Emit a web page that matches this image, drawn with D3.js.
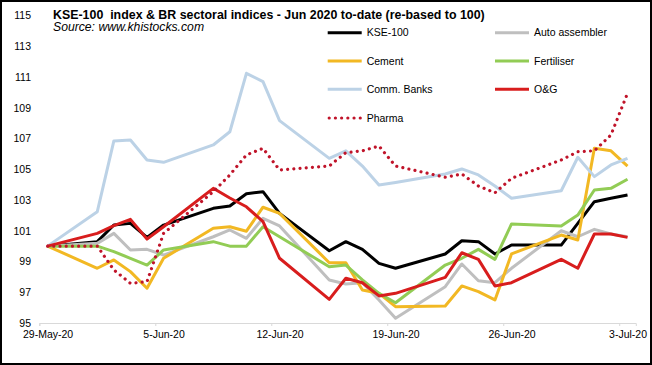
<!DOCTYPE html>
<html><head><meta charset="utf-8">
<script src="https://cdn.jsdelivr.net/npm/d3@7"></script>
<style>
html,body{margin:0;padding:0;background:#fff;}
svg{display:block;font-family:Arial,"Liberation Sans",sans-serif;}
</style></head>
<body>
<svg id="c" width="652" height="365"></svg>
<script>
const dates = ["2020-05-29","2020-06-01","2020-06-02","2020-06-03","2020-06-04","2020-06-05",
"2020-06-08","2020-06-09","2020-06-10","2020-06-11","2020-06-12",
"2020-06-15","2020-06-16","2020-06-17","2020-06-18","2020-06-19",
"2020-06-22","2020-06-23","2020-06-24","2020-06-25","2020-06-26",
"2020-06-29","2020-06-30","2020-07-01","2020-07-02","2020-07-03"];
const kse100 = [100,100.29,101.37,101.48,100.57,101.37,102.46,102.61,103.41,103.54,102.13,99.70,100.29,99.79,98.88,98.56,99.49,100.35,100.29,99.49,100.07,100.07,101.48,102.89,103.11,103.33];
const autoAssembler = [100,100.18,100.83,99.75,99.79,99.42,100.61,101.05,100.51,101.81,101.31,97.80,97.54,97.62,96.50,95.31,97.36,98.84,97.75,97.62,98.56,101.0,100.61,101.09,100.79,100.61];
const cement = [100,98.56,99.10,98.34,97.26,99.21,101.16,101.26,100.97,102.53,102.13,98.92,98.92,97.15,96.93,96.06,96.11,97.41,97.04,96.50,99.49,100.72,100.40,106.36,106.20,105.21];
const fertiliser = [100,100.0,99.64,99.21,98.77,99.75,100.29,100.0,100.0,101.26,100.61,98.66,98.77,97.80,96.93,96.32,98.77,99.21,99.79,99.14,101.44,101.31,102.02,103.65,103.76,104.35];
const commBanks = [100,102.24,106.84,106.9,105.6,105.45,106.58,107.44,111.24,110.7,108.16,105.71,106.2,105.21,103.98,104.14,104.69,105.02,104.63,103.91,103.11,103.6,105.78,104.52,105.28,105.71];
const oilGas = [100,100.83,101.33,101.74,100.46,101.26,103.76,103.13,102.56,101.59,99.21,96.54,97.91,97.62,96.76,96.93,97.97,99.57,99.14,97.41,97.62,99.14,98.56,100.79,100.79,100.57];
const pharma = [100,100.0,98.45,97.58,97.69,100.83,103.54,104.63,105.93,106.36,104.95,105.21,106.08,106.2,106.51,105.21,104.48,104.69,103.91,103.47,104.41,105.6,106.14,106.2,107.23,109.94];
const seriesNames = ["KSE-100","Auto assembler","Cement","Fertiliser","Comm. Banks","O&G","Pharma"];
const xTickLabels = ["29-May-20","5-Jun-20","12-Jun-20","19-Jun-20","26-Jun-20","3-Jul-20"];
const yTicks = [95,97,99,101,103,105,107,109,111,113,115];

const parse = d3.utcParse("%Y-%m-%d");
const DAY = 86400000;
const dts = dates.map(parse);
const tickDates = ["2020-05-29","2020-06-05","2020-06-12","2020-06-19","2020-06-26","2020-07-03"].map(parse);

const svg = d3.select("#c");
svg.append("rect").attr("x",1).attr("y",1).attr("width",650).attr("height",363)
  .attr("fill","#fff").attr("stroke","#000").attr("stroke-width",2);

const x = d3.scaleUtc().domain([parse("2020-05-29"), parse("2020-07-04")]).range([39.3, 635.8]);
const y = d3.scaleLinear().domain([95,115]).range([323,15.5]);

// x axis
const xa = svg.append("g").attr("transform","translate(0,323)")
  .call(d3.axisBottom(x).tickValues(tickDates).tickSize(3).tickFormat((d,i)=>xTickLabels[i]));
xa.select(".domain").attr("stroke","#d9d9d9").attr("stroke-width",1);
xa.selectAll(".tick line").attr("stroke","#d9d9d9");
xa.selectAll(".tick text").attr("x", x(new Date(DAY/2 + x.domain()[0].getTime())) - x(x.domain()[0]))
  .attr("y",8).attr("fill","#000").attr("font-size","10.5px").attr("font-family","Arial, 'Liberation Sans', sans-serif");

// y axis
const ya = svg.append("g").attr("transform","translate(31,0)")
  .call(d3.axisLeft(y).tickValues(yTicks).tickSize(0).tickPadding(0));
ya.select(".domain").remove();
ya.selectAll(".tick text").attr("fill","#000").attr("font-size","10.5px").attr("font-family","Arial, 'Liberation Sans', sans-serif");

// series
const series = [
  {name:seriesNames[0], vals:kse100, color:"#000000"},
  {name:seriesNames[1], vals:autoAssembler, color:"#bfbfbf"},
  {name:seriesNames[2], vals:cement, color:"#f2b823"},
  {name:seriesNames[3], vals:fertiliser, color:"#92cc55"},
  {name:seriesNames[4], vals:commBanks, color:"#bcd2e6"},
  {name:seriesNames[5], vals:oilGas, color:"#d81d1d"},
  {name:seriesNames[6], vals:pharma, color:"#c0142a", dotted:true}
];
const line = d3.line().x((d,i)=>x(new Date(dts[i].getTime()+DAY/2))).y(d=>y(d));
series.forEach(s=>{
  const p = svg.append("path").datum(s.vals).attr("d",line)
    .attr("fill","none").attr("stroke",s.color).attr("stroke-width",3)
    .attr("stroke-linejoin","round");
  if(s.dotted){ p.attr("stroke-dasharray","0.01,6.2").attr("stroke-linecap","round").attr("stroke-width",3.2); }
});

// title
svg.append("text").attr("x",53).attr("y",18.5).attr("font-weight","bold").attr("font-size","12.4px")
  .attr("fill","#000").style("white-space","pre")
  .text("KSE-100  index & BR sectoral indices - Jun 2020 to-date (re-based to 100)");
svg.append("text").attr("x",53).attr("y",31).attr("font-style","italic").attr("font-size","12.2px")
  .attr("fill","#000").text("Source: www.khistocks.com");

// legend
const legX = [327.7, 495];
const legY = [32.7, 61, 89.3, 118];
series.forEach((s,i)=>{
  const cx = legX[i%2], cy = legY[Math.floor(i/2)];
  const l = svg.append("line").attr("x1",cx).attr("x2",cx+34).attr("y1",cy).attr("y2",cy)
    .attr("stroke",s.color).attr("stroke-width",3);
  if(s.dotted){ l.attr("x1",cx+1.5).attr("stroke-dasharray","0.01,6.2").attr("stroke-linecap","round").attr("stroke-width",3.2); }
  svg.append("text").attr("x",cx+39).attr("y",cy).attr("dy","0.35em")
    .attr("font-size","10.5px").attr("fill","#000").text(s.name);
});
</script>
</body></html>
